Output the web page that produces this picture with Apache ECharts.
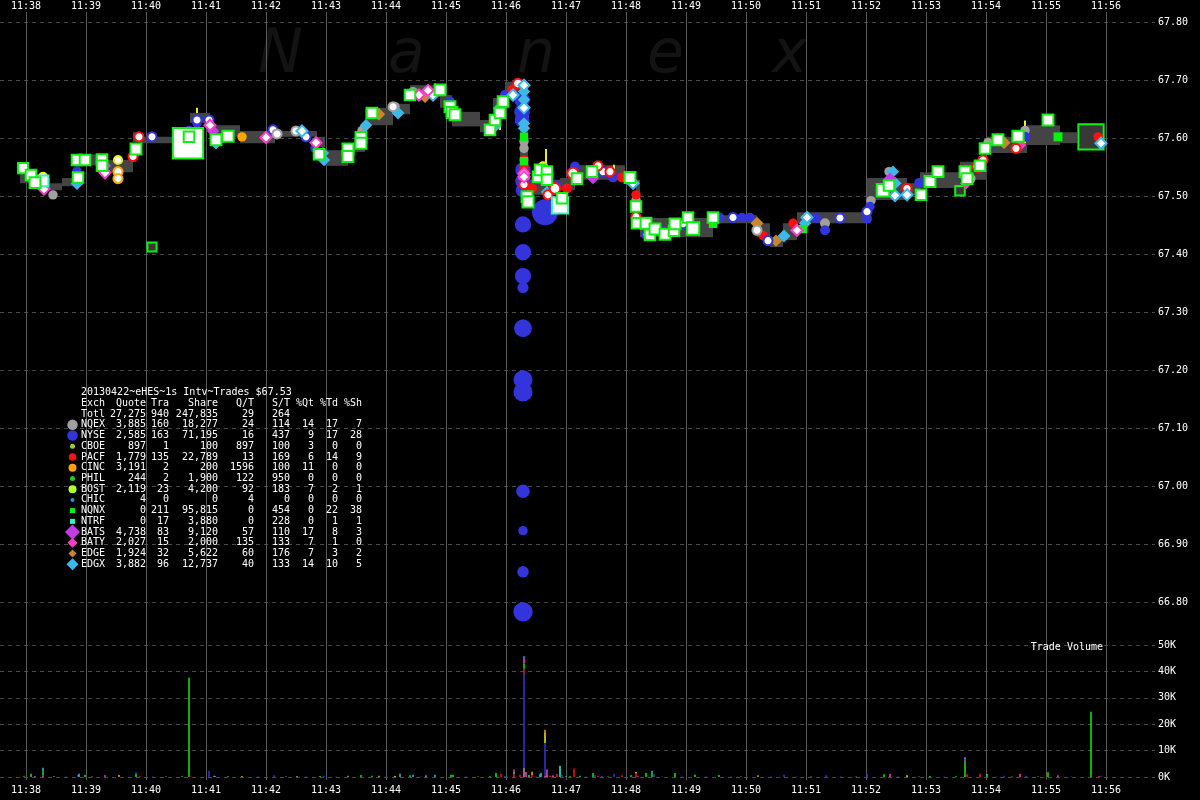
<!DOCTYPE html>
<html><head><meta charset="utf-8">
<script src="https://cdn.jsdelivr.net/npm/echarts@6/dist/echarts.min.js"></script>
<style>html,body{margin:0;padding:0;background:#000;}#c{width:1200px;height:800px;}</style>
</head><body><div id="c"></div>
<script>
// ---------- DATA (time = seconds after 11:38:00, price in $) ----------
const minuteTicks = ['11:38','11:39','11:40','11:41','11:42','11:43','11:44','11:45','11:46','11:47','11:48','11:49','11:50','11:51','11:52','11:53','11:54','11:55','11:56'];
const priceTicks = [66.80,66.90,67.00,67.10,67.20,67.30,67.40,67.50,67.60,67.70,67.80];
const volumeTicks = ['0K','10K','20K','30K','40K','50K'];

// NBBO band: segment boundaries (seconds) and low/high of each segment
const bandTimes = [-6,11,24,36,51,81,107,114,164,184,214,249,291,299,322,339,367,384,414,426,454,467,479,494,502,534,549,599,610,614,687,731,744,757,771,841,881,894,934,961,1001,1034,1051];
const bandLow  = [67.522,67.514,67.510,67.517,67.553,67.541,67.593,67.591,67.626,67.602,67.591,67.602,67.584,67.552,67.576,67.622,67.641,67.671,67.652,67.620,67.610,67.634,67.679,67.550,67.502,67.510,67.528,67.524,67.462,67.429,67.453,67.429,67.412,67.424,67.453,67.493,67.502,67.514,67.528,67.574,67.588,67.591];
const bandHigh = [67.540,67.531,67.522,67.531,67.572,67.562,67.610,67.602,67.643,67.622,67.612,67.612,67.602,67.579,67.591,67.652,67.659,67.691,67.674,67.645,67.631,67.669,67.697,67.690,67.528,67.531,67.553,67.541,67.528,67.462,67.467,67.453,67.429,67.453,67.472,67.531,67.522,67.541,67.559,67.602,67.622,67.610];

// prints / quotes: [seconds, price, shares]
const nqnxTrades = [[-3,67.548,100],[5,67.536,200],[9,67.523,300],[51,67.562,200],[52,67.532,200],[59,67.562,200],[76,67.563,200],[76,67.552,200],[110,67.581,300],[162,67.591,37600],[163,67.602,200],[190,67.597,300],[202,67.603,400],[293,67.572,200],[322,67.581,300],[322,67.568,300],[335,67.601,300],[335,67.591,300],[346,67.643,200],[384,67.674,200],[414,67.683,300],[424,67.654,300],[426,67.644,300],[429,67.640,300],[464,67.614,200],[469,67.631,200],[474,67.643,200],[477,67.663,200],[501,67.499,300],[502,67.490,400],[512,67.533,200],[514,67.545,200],[521,67.542,200],[521,67.528,200],[536,67.496,200],[551,67.530,200],[566,67.542,200],[604,67.532,300],[610,67.482,200],[611,67.453,200],[620,67.453,300],[624,67.433,200],[629,67.443,300],[639,67.434,300],[648,67.440,200],[649,67.452,300],[662,67.463,200],[667,67.444,1000],[687,67.463,200],[857,67.510,1000],[863,67.518,200],[895,67.502,200],[904,67.525,300],[912,67.542,300],[939,67.542,300],[941,67.530,300],[954,67.552,200],[959,67.582,200],[972,67.597,300],[992,67.603,400],[1022,67.631,300]];
const nqnxOutside = [[126,67.412,100],[934,67.509,200],[1065,67.602,24700]];
const nqnxQuotes = [[498,67.602,200],[498,67.560,200],[687,67.452,200],[777,67.443,200],[1032,67.602,300]];
const ntrfTrades = [[17,67.526,300],[534,67.484,4300]];
const nyseQuotes = [[51,67.543,200],[109,67.572,200],[163,67.613,200],[171,67.626,200],[289,67.582,200],[424,67.663,300],[479,67.674,300],[496,67.666,2500],[496,67.645,2500],[496,67.631,2000],[497,67.545,2500],[497,67.525,2500],[497,67.510,2000],[497,67.451,3000],[497,67.403,3000],[497,67.362,3000],[497,67.342,600],[497,67.272,4000],[497,67.183,5000],[497,67.162,5000],[497,66.991,1500],[497,66.923,200],[497,66.852,700],[497,66.783,5300],[519,67.472,12400],[531,67.519,200],[549,67.551,300],[552,67.532,300],[567,67.539,300],[587,67.533,500],[634,67.443,200],[694,67.463,200],[716,67.463,200],[724,67.463,200],[790,67.462,300],[799,67.441,300],[841,67.461,300],[844,67.482,200],[893,67.523,200],[962,67.581,200],[999,67.602,300]];
const nyseTrades = [[126,67.602,100],[171,67.631,100],[183,67.631,100],[247,67.614,100],[280,67.602,100],[577,67.542,100],[621,67.433,100],[657,67.452,100],[707,67.463,100],[742,67.423,100],[814,67.462,100],[841,67.473,100]];
const nqexQuotes = [[27,67.502,200],[336,67.613,200],[369,67.654,200],[387,67.680,200],[498,67.637,200],[498,67.594,200],[498,67.582,200],[610,67.493,200],[799,67.453,300],[845,67.492,200],[863,67.542,200],[962,67.592,200],[999,67.613,200]];
const nqexTrades = [[251,67.607,100],[270,67.612,100],[367,67.654,100],[731,67.441,100],[944,67.530,100]];
const pacfQuotes = [[486,67.683,200],[498,67.562,200],[498,67.551,200],[506,67.513,300],[541,67.513,300],[596,67.532,300],[610,67.502,200],[737,67.432,200],[767,67.453,200],[1072,67.602,200]];
const pacfTrades = [[107,67.568,100],[113,67.602,100],[492,67.694,200],[498,67.541,100],[498,67.520,100],[522,67.502,100],[529,67.513,600],[547,67.539,800],[572,67.552,100],[584,67.542,100],[610,67.464,100],[881,67.513,100],[952,67.551,800],[957,67.562,100],[990,67.582,100]];
const cincQuotes = [[216,67.602,200]];
const cincTrades = [[92,67.542,100],[92,67.530,100]];
const bostTrades = [[17,67.533,100],[54,67.564,100],[92,67.562,100],[517,67.551,100]];
// BOST quote ticks: [seconds, low, high]
const bostQuotes = [[171,67.643,67.652],[335,67.586,67.594],[409,67.671,67.694],[474,67.614,67.631],[520,67.545,67.581],[588,67.545,67.554],[999,67.591,67.630]];
const edgeQuotes = [[353,67.641,200],[399,67.671,200],[731,67.453,300],[750,67.423,200],[978,67.592,300]];
const edgxQuotes = [[51,67.521,200],[190,67.591,200],[297,67.574,200],[298,67.562,200],[340,67.622,200],[372,67.643,300],[469,67.620,200],[473,67.651,200],[498,67.680,200],[498,67.666,200],[498,67.653,200],[498,67.625,200],[498,67.617,200],[521,67.507,200],[758,67.431,300],[779,67.453,200],[867,67.542,200],[869,67.522,300]];
const edgxTrades = [[276,67.612,100],[407,67.674,100],[487,67.674,100],[498,67.691,100],[498,67.652,100],[607,67.522,100],[781,67.463,100],[869,67.501,100],[881,67.502,100],[1075,67.591,100]];
const batsQuotes = [[79,67.552,200],[187,67.612,200],[567,67.531,200],[864,67.530,200]];
const batyQuotes = [[498,67.530,200],[940,67.522,200],[994,67.588,200]];
const batsTrades = [[18,67.512,100],[79,67.540,100],[184,67.622,100],[240,67.601,100],[290,67.592,100],[393,67.674,100],[402,67.682,100],[498,67.539,100],[498,67.533,100],[771,67.441,100]];

// trade volume per second: [seconds, exchange, shares]
const tradeVolume = [[-2,'NQNX',250],[5,'NQNX',1260],[9,'NQEX',250],[17,'BATY',600],[17,'NQNX',1500],[17,'EDGX',1400],[28,'NQEX',250],[40,'NYSE',150],[52,'NYSE',500],[52,'BATY',250],[53,'EDGX',1200],[59,'NQNX',750],[66,'NQEX',150],[79,'BATS',750],[93,'CINC',500],[93,'BOST',300],[110,'NQNX',1200],[110,'NYSE',700],[114,'PACF',250],[127,'NYSE',150],[140,'NQEX',150],[156,'NQNX',250],[163,'NQNX',37600],[164,'PACF',300],[183,'NYSE',2400],[188,'BATY',500],[189,'EDGX',380],[202,'NQNX',250],[216,'CINC',380],[232,'NYSE',150],[248,'NYSE',630],[260,'NQEX',150],[271,'NQEX',380],[280,'NYSE',150],[294,'NQNX',380],[298,'NYSE',500],[310,'NYSE',150],[322,'NQEX',500],[335,'NQNX',750],[346,'NQNX',500],[353,'CINC',500],[360,'NYSE',150],[369,'BOST',380],[374,'EDGX',1260],[384,'NQNX',630],[387,'EDGX',880],[395,'NYSE',150],[400,'EDGX',630],[409,'EDGX',880],[425,'NQNX',880],[427,'NQNX',750],[440,'NYSE',150],[452,'NQNX',150],[464,'NQNX',250],[470,'NQNX',1500],[475,'PACF',1260],[479,'NYSE',380],[488,'PACF',1000],[488,'NQEX',1000],[488,'BATY',800],[494,'PACF',880],[498,'NQEX',3500],[498,'NYSE',35500],[498,'PACF',2000],[498,'NQNX',2000],[498,'BATY',2000],[498,'EDGX',700],[500,'BATY',1900],[503,'NQNX',750],[506,'PACF',750],[506,'CINC',1260],[510,'NYSE',300],[514,'NQNX',1000],[515,'EDGX',1500],[519,'BATY',500],[519,'NYSE',12400],[519,'BOST',3800],[519,'CINC',1200],[521,'NQEX',1000],[521,'BATY',1800],[524,'PACF',500],[527,'BATY',630],[531,'PACF',600],[531,'BATY',400],[534,'NTRF',4300],[536,'NYSE',750],[540,'NQNX',300],[544,'NQNX',250],[548,'PACF',3200],[554,'NQNX',500],[560,'NYSE',200],[567,'NQNX',1500],[569,'NYSE',750],[572,'PACF',500],[576,'NYSE',500],[582,'NQNX',200],[588,'NYSE',1260],[596,'PACF',630],[605,'NQNX',630],[610,'PACF',1400],[610,'BOST',500],[612,'BATY',250],[620,'NQNX',1500],[626,'NQNX',1600],[626,'EDGX',800],[628,'NYSE',1000],[636,'NYSE',200],[649,'NQNX',1500],[656,'NYSE',200],[669,'NQNX',880],[680,'NYSE',200],[693,'NQNX',750],[705,'NYSE',200],[715,'NQEX',200],[732,'CINC',630],[745,'NYSE',200],[758,'NYSE',880],[770,'NYSE',200],[785,'NQNX',200],[800,'NYSE',630],[815,'NYSE',200],[830,'NQNX',200],[841,'NYSE',1260],[858,'NQNX',1000],[864,'BATY',1100],[872,'NYSE',200],[881,'BOST',630],[893,'NQNX',200],[904,'NQNX',380],[918,'NYSE',200],[930,'NQNX',300],[939,'NQNX',5700],[939,'BATY',900],[939,'EDGX',900],[941,'PACF',1000],[954,'PACF',1260],[961,'NQNX',500],[961,'NQEX',630],[970,'NYSE',200],[978,'NYSE',500],[986,'NQNX',200],[994,'BATY',1260],[1000,'NYSE',500],[1012,'NQNX',200],[1022,'NQNX',1770],[1032,'BATY',630],[1045,'NYSE',200],[1065,'NQNX',24700],[1073,'PACF',380],[1075,'NYSE',500]];

// summary table
const tableTitle = '20130422~eHES~1s Intv~Trades $67.53';
const tableHeader = ['Exch','Quote','Tra','Share','Q/T','S/T','%Qt','%Td','%Sh'];
const tableRows = [
 ['Totl','27,275','940','247,835','29','264','','',''],
 ['NQEX','3,885','160','18,277','24','114','14','17','7'],
 ['NYSE','2,585','163','71,195','16','437','9','17','28'],
 ['CBOE','897','1','100','897','100','3','0','0'],
 ['PACF','1,779','135','22,789','13','169','6','14','9'],
 ['CINC','3,191','2','200','1596','100','11','0','0'],
 ['PHIL','244','2','1,900','122','950','0','0','0'],
 ['BOST','2,119','23','4,200','92','183','7','2','1'],
 ['CHIC','4','0','0','4','0','0','0','0'],
 ['NQNX','0','211','95,815','0','454','0','22','38'],
 ['NTRF','0','17','3,880','0','228','0','1','1'],
 ['BATS','4,738','83','9,120','57','110','17','8','3'],
 ['BATY','2,027','15','2,000','135','133','7','1','0'],
 ['EDGE','1,924','32','5,622','60','176','7','3','2'],
 ['EDGX','3,882','96','12,737','40','133','14','10','5']
];

// ---------- STYLES ----------
const C = {NQEX:'#a0a0a0',NYSE:'#3434dc',CBOE:'#9acd32',PACF:'#ff1010',CINC:'#ffa500',PHIL:'#22cc22',BOST:'#e8f020',CHIC:'#2c8fd0',NQNX:'#11ee11',NTRF:'#3cf0c0',BATS:'#c43ce6',BATY:'#ff3cc8',EDGE:'#c8872a',EDGX:'#3cb8ea'};
const legendIcon = {NQEX:['circle',10.5],NYSE:['circle',10.5],CBOE:['circle',5],PACF:['circle',7.5],CINC:['circle',8],PHIL:['circle',5],BOST:['circle',8],CHIC:['circle',4],NQNX:['rect',5],NTRF:['rect',5],BATS:['diamond',15],BATY:['diamond',10],EDGE:['diamond',8],EDGX:['diamond',12]};
const legendColor = Object.assign({}, C, {BOST:'#b4ff32'});
const MONO = '"DejaVu Sans Mono", monospace';
const solidSize = (base)=> (d)=> base + 0.17*Math.sqrt(d[2]);
const openSize = (base)=> (d)=> base + 0.11*Math.sqrt(d[2]);

function solid(data, sym, color, base){
  return {type:'scatter', xAxisIndex:2, yAxisIndex:1, data, symbol:sym, symbolSize:solidSize(base), clip:false, silent:true, z:3,
    itemStyle:{color, opacity:1}};
}
function open(data, sym, color, base, fill, z){
  return {type:'scatter', xAxisIndex:2, yAxisIndex:1, data, symbol:sym, symbolSize:openSize(base), clip:false, silent:true, z:z||4,
    itemStyle:{color:fill||'#ffffff', borderColor:color, borderWidth:2, opacity:1}};
}

// volume stacks
const exchList = Object.keys(C);
const volStack = {};
const volSegs = tradeVolume.map(([t,ex,v])=>{const b=volStack[t]||0; volStack[t]=b+v; return [t,b,b+v,exchList.indexOf(ex)];});

const series = [
  {type:'custom', xAxisIndex:2, yAxisIndex:1, silent:true, z:1,
   data: bandLow.map((lo,i)=>[bandTimes[i], bandTimes[i+1], lo, bandHigh[i]]),
   encode:{x:[0,1], y:[2,3]},
   renderItem(params, api){
     const a = api.coord([api.value(0), api.value(3)]);
     const b = api.coord([api.value(1), api.value(2)]);
     return {type:'rect', shape:{x:a[0], y:a[1], width:b[0]-a[0], height:b[1]-a[1]}, style:{fill:'#444444'}};
   }},
  {type:'custom', xAxisIndex:2, yAxisIndex:1, silent:true, z:2, data: bostQuotes, encode:{x:0, y:[1,2]},
   renderItem(params, api){
     const a = api.coord([api.value(0), api.value(2)]);
     const b = api.coord([api.value(0), api.value(1)]);
     return {type:'rect', shape:{x:a[0]-1, y:a[1], width:2, height:b[1]-a[1]}, style:{fill:C.BOST}};
   }},
  solid(nqexQuotes,'circle',C.NQEX,7),
  solid(nyseQuotes,'circle',C.NYSE,7),
  solid(pacfQuotes,'circle',C.PACF,7),
  solid(cincQuotes,'circle',C.CINC,7),
  solid(edgeQuotes,'diamond',C.EDGE,10),
  solid(edgxQuotes,'diamond',C.EDGX,10),
  solid(batsQuotes,'diamond',C.BATS,10),
  solid(batyQuotes,'diamond',C.BATY,10),
  solid(nqnxQuotes,'rect',C.NQNX,6),
  open(nyseTrades,'circle',C.NYSE,8),
  open(nqexTrades,'circle',C.NQEX,8),
  open(pacfTrades,'circle',C.PACF,8),
  open(cincTrades,'circle',C.CINC,8),
  open(bostTrades,'circle',C.BOST,7),
  open(edgxTrades,'diamond',C.EDGX,10),
  open(batsTrades,'diamond',C.BATY,10),
  open(ntrfTrades,'rect',C.NTRF,9),
  open(nqnxTrades,'rect',C.NQNX,9,'#ffffff',5),
  open(nqnxOutside,'rect',C.NQNX,8,'#383838',2),
  {type:'custom', xAxisIndex:3, yAxisIndex:2, silent:true, z:3,
   data: volSegs, encode:{x:0, y:[1,2]},
   renderItem(params, api){
     const top = api.coord([api.value(0), api.value(2)]);
     const bot = api.coord([api.value(0), api.value(1)]);
     return {type:'rect', shape:{x:top[0]-0.75, y:top[1], width:1.5, height:bot[1]-top[1]}, style:{fill:C[exchList[api.value(3)]]}};
   }}
];

// ---------- GRAPHICS: watermark + table ----------
const elements = [];
const wm = [['N',258],['a',388],['n',517],['e',647],['x',772]];
wm.forEach(([ch,x])=>elements.push({type:'text', x, y:56, z:-5, silent:true,
  style:{text:ch, fill:'#131313', font:'italic 60px "DejaVu Sans"', textAlign:'left', textVerticalAlign:'middle'}}));
const colRight = [146,169,218,254,290,314,338,362];
const rowY = (i)=> 392.7 + i*10.72;
const txt = (s,x,y,align)=>({type:'text', x, y, silent:true, z:20, style:{text:s, fill:'#ffffff', font:'10px '+MONO, textAlign:align, textVerticalAlign:'middle'}});
elements.push(txt(tableTitle, 81, rowY(0), 'left'));
[tableHeader].concat(tableRows).forEach((row,r)=>{
  const y = rowY(r+1);
  elements.push(txt(row[0], 81, y, 'left'));
  for(let k=1;k<row.length;k++) if(row[k]!=='') elements.push(txt(row[k], colRight[k-1], y, 'right'));
  const ic = legendIcon[row[0]];
  if(ic){
    const cx=72.5, cy=y, s=ic[1], col=legendColor[row[0]];
    if(ic[0]==='circle') elements.push({type:'circle', silent:true, z:20, shape:{cx,cy,r:s/2}, style:{fill:col}});
    else if(ic[0]==='rect') elements.push({type:'rect', silent:true, z:20, shape:{x:cx-s/2,y:cy-s/2,width:s,height:s}, style:{fill:col}});
    else elements.push({type:'polygon', silent:true, z:20, shape:{points:[[cx,cy-s/2],[cx+s/2,cy],[cx,cy+s/2],[cx-s/2,cy]]}, style:{fill:col}});
  }
});
elements.push(txt('Trade Volume', 1103, 647.5, 'right'));

const timeLabel = (v)=>{ const i=Math.round(v/60); return (v>=0 && i<minuteTicks.length && Math.abs(v-i*60)<1) ? minuteTicks[i] : ''; };
const dashed = {show:true, lineStyle:{color:'#4a4a4a', type:[4,4], width:1}};
const lab = {color:'#ffffff', fontFamily:MONO, fontSize:10};

const option = {
  backgroundColor:'#000000',
  animation:false,
  grid:[
    {left:-34, width:1200, top:12, bottom:20, containLabel:false, outerBoundsMode:'none'},
    {left:0, width:1155, top:22, height:580, containLabel:false, outerBoundsMode:'none'},
    {left:0, width:1155, top:645, height:132, containLabel:false, outerBoundsMode:'none'}
  ],
  xAxis:[
    {gridIndex:0, type:'value', position:'top', min:-60, max:1140, interval:60,
     axisLine:{show:false}, axisTick:{show:false},
     axisLabel:Object.assign({margin:1, formatter:timeLabel}, lab),
     splitLine:{show:true, showMinLine:false, showMaxLine:false, lineStyle:{color:'#5a5a5a', width:1}}},
    {gridIndex:0, type:'value', position:'bottom', min:-60, max:1140, interval:60,
     axisLine:{show:false}, axisTick:{show:false},
     axisLabel:Object.assign({margin:5, formatter:timeLabel}, lab), splitLine:{show:false}},
    {gridIndex:1, type:'value', min:-26, max:1129, show:false},
    {gridIndex:2, type:'value', min:-26, max:1129, show:false}
  ],
  yAxis:[
    {gridIndex:0, type:'value', show:false, min:0, max:1},
    {gridIndex:1, type:'value', position:'right', min:priceTicks[0], max:priceTicks[priceTicks.length-1], interval:0.1,
     axisLine:{show:false}, axisTick:{show:false},
     axisLabel:Object.assign({margin:3, formatter:(v)=>v.toFixed(2)}, lab), splitLine:dashed},
    {gridIndex:2, type:'value', position:'right', min:0, max:50000, interval:10000,
     axisLine:{show:false}, axisTick:{show:false},
     axisLabel:Object.assign({margin:3, formatter:(v)=>volumeTicks[Math.round(v/10000)]}, lab), splitLine:dashed}
  ],
  graphic:{elements},
  series
};
const chart = echarts.init(document.getElementById('c'), null, {renderer:'canvas'});
chart.setOption(option);
</script></body></html>
